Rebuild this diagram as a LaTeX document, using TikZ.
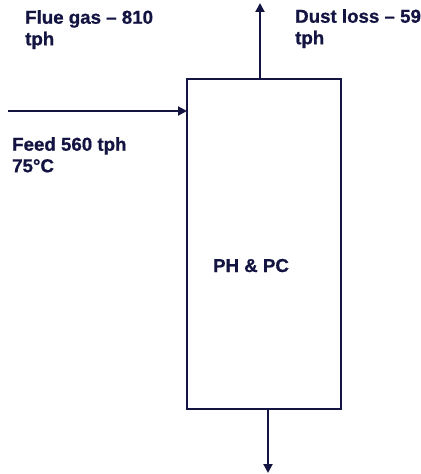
\documentclass[tikz,border=0pt]{standalone}
\usepackage{fontspec}
\setmainfont{Liberation Sans}[BoldFont={Liberation Sans Bold}, BoldFeatures={FakeBold=0.8}]
\usepackage{xcolor}
\usetikzlibrary{arrows.meta,positioning}
\definecolor{navy}{RGB}{20,20,66}
\begin{document}
\begin{tikzpicture}[x=1bp, y=-1bp, font=\fontsize{18.7bp}{21.5bp}\selectfont\bfseries, text=navy,
unit/.style={draw=navy, line width=1.5bp, minimum width=154bp, minimum height=330bp, inner sep=0pt, outer sep=0pt},
lbl/.style={inner sep=0pt, align=left, anchor=north west, font=\fontsize{18.7bp}{21.5bp}\selectfont\bfseries},
arrow/.style={-{Triangle[length=9bp, width=9bp]}, line width=2bp, draw=navy}]
\useasboundingbox (0,0) rectangle (420,474);
\node[unit] (box) at (264,244) {};
\node[inner sep=0pt, anchor=base] (name) at (251,272) {PH \& PC};
\node[lbl] (flue) at (25,10) {Flue gas – 810\\tph};
\node[lbl] (dust) at (295,9) {Dust loss – 59\\tph};
\node[lbl] (feed) at (12,137) {Feed 560 tph\\75°C};
\coordinate (feedin) at (8,111);
\coordinate (dusttip) at (260,3);
\coordinate (outlet) at (268,473);
\draw[arrow] (feedin)--(feedin -| box.west);
\draw[arrow] (box.north -| dusttip)--(dusttip);
\draw[arrow] (box.south -| outlet)--(outlet);
\end{tikzpicture}
\end{document}
